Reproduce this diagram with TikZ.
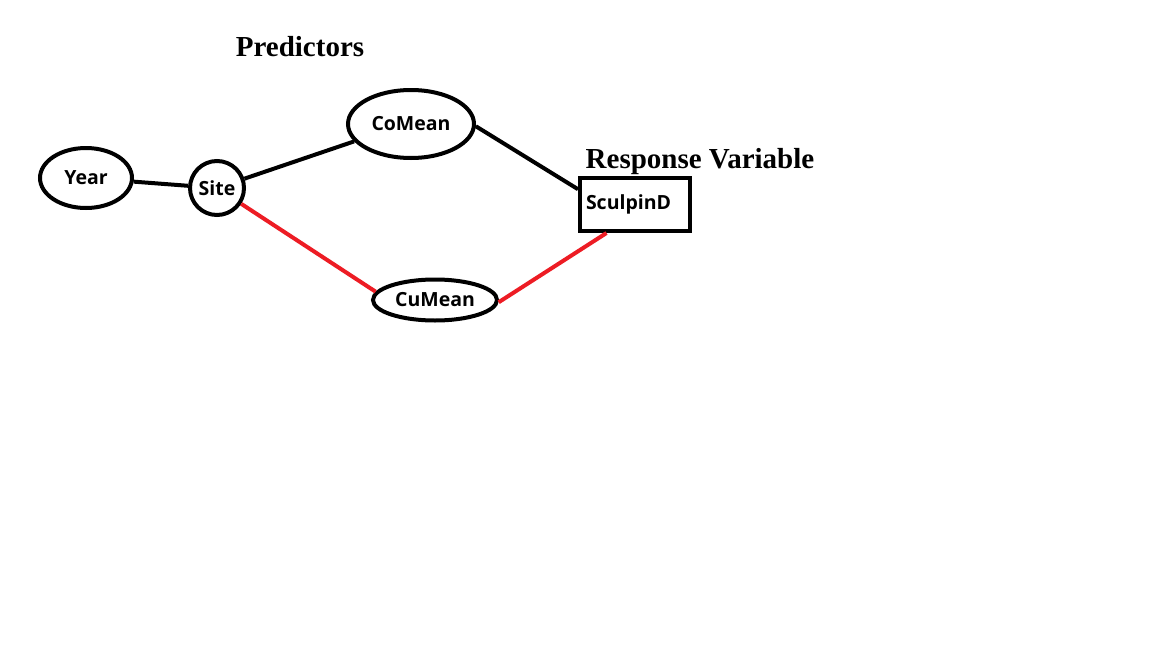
\documentclass[tikz,border=0pt]{standalone}
\usepackage{fontspec}
\setmainfont{Liberation Serif}
\newfontfamily\nodefont{Open Sans}
\usetikzlibrary{shapes.geometric}
\definecolor{paintred}{RGB}{237,28,36}
\tikzset{
  shapeline/.style={draw=black, line width=4pt, inner sep=0pt},
  oval/.style={shapeline, ellipse, font=\nodefont\bfseries\fontsize{19.5}{22}\selectfont},
  roundnode/.style={shapeline, circle, font=\nodefont\bfseries\fontsize{19.5}{22}\selectfont},
  boxnode/.style={shapeline, rectangle, inner xsep=6pt, align=left, font=\nodefont\bfseries\fontsize{19.5}{22}\selectfont},
  heading/.style={font=\bfseries\fontsize{29}{32}\selectfont, anchor=base, inner sep=0pt},
  blackedge/.style={draw=black, line width=4pt},
  rededge/.style={draw=paintred, line width=4pt},
}
\begin{document}
\begin{tikzpicture}[x=1pt,y=-1pt]
\useasboundingbox[fill=white] (0,0) rectangle (1152,648);
\node[heading] (pred) at (300,56) {Predictors};
\node[heading] (resp) at (700,168) {Response Variable};
\node[oval, minimum width=92pt, minimum height=60pt] (year) at (86,178) {Year};
\node[roundnode, minimum size=54pt] (site) at (217,188) {Site};
\node[oval, minimum width=126pt, minimum height=68pt] (comean) at (411,124) {CoMean};
\node[oval, minimum width=124pt, minimum height=41pt] (cumean) at (435,300) {CuMean};
\node[boxnode, minimum width=110pt, minimum height=53pt, text width=98pt] (sculpin) at (635,204.5) {SculpinD};
\draw[blackedge] (year) -- (site);
\draw[blackedge] (site) -- (comean.197);
\draw[blackedge] (comean.-2) -- (sculpin.165);
\draw[rededge] (site) -- (cumean.172);
\draw[rededge] (cumean.-2) -- (sculpin.-135);
\end{tikzpicture}
\end{document}
